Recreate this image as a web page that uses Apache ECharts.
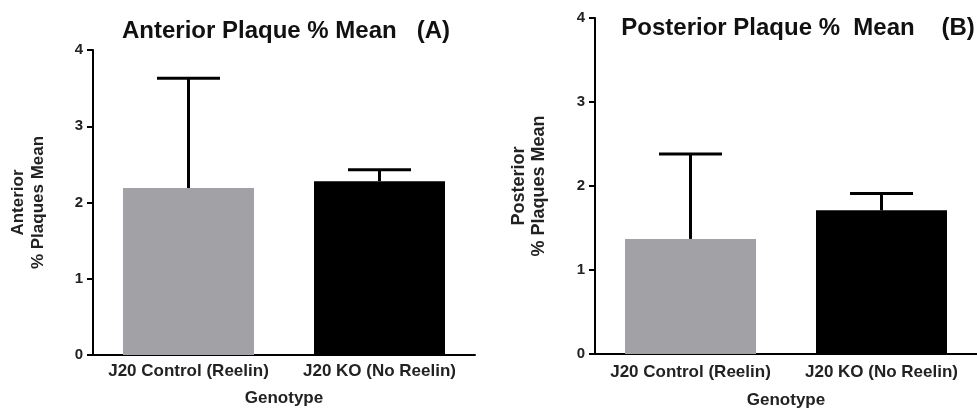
<!DOCTYPE html>
<html>
<head>
<meta charset="utf-8">
<script src="https://cdn.jsdelivr.net/npm/echarts@6/dist/echarts.min.js"></script>
<style>
  html, body { margin: 0; padding: 0; background: #fff; }
  #chart { width: 977px; height: 414px; }
</style>
</head>
<body>
<div id="chart"></div>
<script>
// data
const categories = ['J20 Control (Reelin)', 'J20 KO (No Reelin)'];
const anteriorMean = [2.19, 2.28];
const anteriorSem = [1.44, 0.15];
const posteriorMean = [1.37, 1.71];
const posteriorSem = [1.01, 0.20];
const yTicks = [0, 1, 2, 3, 4];

const barColors = ['#a2a1a5', '#000000'];
const font = 'Liberation Sans, Arial, sans-serif';

// error bar: stem from the mean up to mean + sem, with a cap
function errorBar(params, api) {
    let x = api.value(0);
    let m = api.value(1);
    let e = api.value(2);
    let base = api.coord([x, m]);
    let top = api.coord([x, m + e]);
    let hw = 31.5;
    let st = { stroke: '#000', lineWidth: 3 };
    return {
        type: 'group',
        children: [
            { type: 'line', shape: { x1: base[0], y1: base[1], x2: top[0], y2: top[1] }, style: st },
            { type: 'line', shape: { x1: top[0] - hw, y1: top[1], x2: top[0] + hw, y2: top[1] }, style: st }
        ]
    };
}

function xAxisOpt(gridIndex, margin, nameGap) {
    return {
        type: 'category',
        gridIndex: gridIndex,
        data: categories,
        name: 'Genotype',
        nameLocation: 'middle',
        nameGap: nameGap,
        nameTextStyle: { fontFamily: font, fontWeight: 'bold', fontSize: 17, color: '#222' },
        axisLine: { lineStyle: { color: '#000', width: 2 } },
        axisTick: { alignWithLabel: true, interval: 0, length: 6, lineStyle: { color: '#000', width: 2 } },
        axisLabel: { interval: 0, margin: margin, fontFamily: font, fontWeight: 'bold', fontSize: 17, color: '#222' }
    };
}

function yAxisOpt(gridIndex, name, nameGap, nameSize) {
    return {
        type: 'value',
        gridIndex: gridIndex,
        min: yTicks[0],
        max: yTicks[yTicks.length - 1],
        interval: 1,
        name: name,
        nameLocation: 'middle',
        nameRotate: 90,
        nameGap: nameGap,
        nameTextStyle: { fontFamily: font, fontWeight: 'bold', fontSize: nameSize, lineHeight: 20, color: '#222', align: 'center' },
        splitLine: { show: false },
        axisLine: { show: true, lineStyle: { color: '#000', width: 2 } },
        axisTick: { show: true, length: 6, lineStyle: { color: '#000', width: 2 } },
        axisLabel: { margin: 10, fontFamily: font, fontWeight: 'bold', fontSize: 15, color: '#222' }
    };
}

let myChart = echarts.init(document.getElementById('chart'));
let option = {
    animation: false,
    backgroundColor: '#fff',
    title: [
        {
            text: 'Anterior Plaque % Mean   (A)',
            left: 281, top: 14, textAlign: 'center',
            textStyle: { fontFamily: font, fontWeight: 'bold', fontSize: 24, color: '#111' }
        },
        {
            text: 'Posterior Plaque %  Mean    (B)',
            left: 793, top: 11, textAlign: 'center',
            textStyle: { fontFamily: font, fontWeight: 'bold', fontSize: 24, color: '#111' }
        }
    ],
    grid: [
        { left: 93, top: 50, width: 382, height: 305 },
        { left: 595, top: 18, width: 382, height: 337 }
    ],
    xAxis: [xAxisOpt(0, 8, 35), xAxisOpt(1, 10, 38)],
    yAxis: [
        yAxisOpt(0, 'Anterior\n% Plaques Mean', 45, 17),
        yAxisOpt(1, 'Posterior\n% Plaques Mean', 46, 18)
    ],
    series: [
        {
            type: 'bar', xAxisIndex: 0, yAxisIndex: 0, barWidth: 131,
            data: anteriorMean.map((v, i) => ({ value: v, itemStyle: { color: barColors[i] } }))
        },
        {
            type: 'custom', xAxisIndex: 0, yAxisIndex: 0, z: 5,
            renderItem: errorBar,
            encode: { x: 0, y: 1 },
            data: anteriorMean.map((v, i) => [i, v, anteriorSem[i]])
        },
        {
            type: 'bar', xAxisIndex: 1, yAxisIndex: 1, barWidth: 131,
            data: posteriorMean.map((v, i) => ({ value: v, itemStyle: { color: barColors[i] } }))
        },
        {
            type: 'custom', xAxisIndex: 1, yAxisIndex: 1, z: 5,
            renderItem: errorBar,
            encode: { x: 0, y: 1 },
            data: posteriorMean.map((v, i) => [i, v, posteriorSem[i]])
        }
    ]
};
myChart.setOption(option);
</script>
</body>
</html>
